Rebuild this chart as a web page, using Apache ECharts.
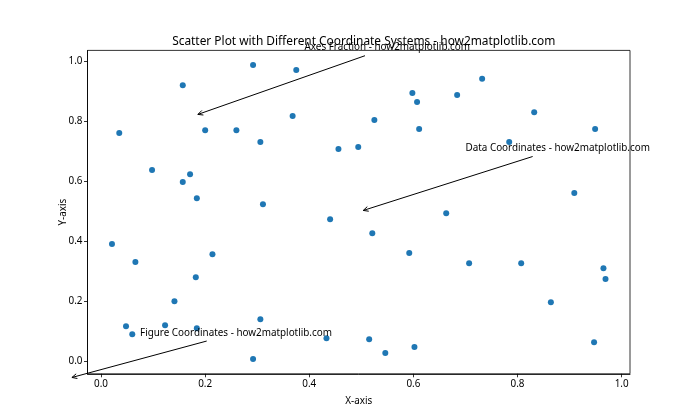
<!DOCTYPE html>
<html><head><meta charset="utf-8">
<script src="https://cdn.jsdelivr.net/npm/echarts@6/dist/echarts.min.js"></script>
<style>html,body{margin:0;padding:0;background:#fff}#c{width:700px;height:420px}</style>
</head><body><div id="c"></div>
<script>
const titleText = 'Scatter Plot with Different Coordinate Systems - how2matplotlib.com';
const xAxisName = 'X-axis';
const yAxisName = 'Y-axis';
const xValues = [0.035,0.098,0.157,0.157,0.171,0.184,0.200,0.260,0.292,0.306,
                 0.311,0.368,0.375,0.440,0.456,0.494,0.525,0.598,0.607,0.611,
                 0.684,0.732,0.784,0.832,0.949,0.909,0.663,0.021,0.066,0.214,
                 0.182,0.141,0.048,0.060,0.123,0.184,0.306,0.292,0.433,0.521,
                 0.592,0.707,0.807,0.965,0.969,0.864,0.515,0.546,0.602,0.947];
const yValues = [0.760,0.637,0.920,0.597,0.623,0.543,0.770,0.770,0.987,0.730,
                 0.523,0.817,0.971,0.473,0.707,0.714,0.804,0.894,0.864,0.774,
                 0.887,0.941,0.730,0.830,0.774,0.560,0.493,0.390,0.330,0.356,
                 0.279,0.199,0.116,0.089,0.119,0.109,0.139,0.006,0.076,0.426,
                 0.360,0.326,0.326,0.309,0.273,0.196,0.072,0.026,0.046,0.062];
const xTicks = [0.0,0.2,0.4,0.6,0.8,1.0];
const yTicks = [0.0,0.2,0.4,0.6,0.8,1.0];
const xRange = [-0.026, 1.016];
const yRange = [-0.043, 1.036];

// annotations: label, target point (xy), text anchor, arrow start
const annTexts = ['Axes Fraction - how2matplotlib.com','Data Coordinates - how2matplotlib.com','Figure Coordinates - how2matplotlib.com'];
const annCoords = ['axes','data','figure'];
const annTargets = [[0.2,0.8],[0.5,0.5],[0.1,0.1]];
const annTextPos = [[0.4,1.0],[0.7,0.7],[0.2,0.2]];
const annStarts = [[0.5115,0.9836],[0.829,0.682],[0.2953,0.188]];

const FONT = 'Noto Sans';
const W = 700, H = 420;
const chart = echarts.init(document.getElementById('c'), null, {renderer:'canvas'});
const txt = {fontFamily:FONT, fontSize:9.9, color:'#000'};
const axisCommon = {
  type:'value', nameLocation:'middle', nameMoveOverlap:false, nameTextStyle:Object.assign({}, txt),
  axisLine:{show:true, onZero:false, lineStyle:{color:'#000', width:0.8}},
  axisTick:{show:true, length:3.5, lineStyle:{color:'#000', width:0.8}},
  splitLine:{show:false}
};
chart.setOption({
  animation:false,
  backgroundColor:'#fff',
  title:{text:titleText, left:358.75, top:31, textAlign:'center',
         textStyle:{fontFamily:FONT, fontSize:11.9, fontWeight:'normal', color:'#000'}},
  grid:{left:87.5, right:70, top:50.4, bottom:46.2, show:true, borderColor:'#000', borderWidth:0.8},
  xAxis:Object.assign({}, axisCommon, {
    min:xRange[0], max:xRange[1], name:xAxisName, nameGap:22,
    axisTick:Object.assign({}, axisCommon.axisTick, {customValues:xTicks}),
    axisLabel:Object.assign({}, txt, {customValues:xTicks, margin:5, formatter:v=>v.toFixed(1)})
  }),
  yAxis:Object.assign({}, axisCommon, {
    min:yRange[0], max:yRange[1], name:yAxisName, nameGap:19,
    axisTick:Object.assign({}, axisCommon.axisTick, {customValues:yTicks}),
    axisLabel:Object.assign({}, txt, {customValues:yTicks, margin:5, formatter:v=>v.toFixed(1)})
  }),
  series:[{type:'scatter', data:xValues.map((x,i)=>[x,yValues[i]]), symbolSize:6,
           itemStyle:{color:'#1f77b4', opacity:1}}]
});

function toPx(p, sys){
  if (sys === 'data') return chart.convertToPixel({gridIndex:0}, p);
  if (sys === 'axes') {
    return chart.convertToPixel({gridIndex:0}, [xRange[0] + p[0]*(xRange[1]-xRange[0]),
                                               yRange[0] + p[1]*(yRange[1]-yRange[0])]);
  }
  return [p[0]*W, (1-p[1])*H];
}
const elems = [];
annTexts.forEach((t,i)=>{
  const sys = annCoords[i];
  const tp = toPx(annTextPos[i], sys);
  const sp = toPx(annStarts[i], sys);
  const tg = toPx(annTargets[i], sys);
  const dx = tg[0]-sp[0], dy = tg[1]-sp[1], L = Math.hypot(dx,dy);
  const ux = dx/L, uy = dy/L;
  const tip = [tg[0]-ux*2, tg[1]-uy*2];
  const hl = 5, hw = 2.4;
  const b = [tip[0]-ux*hl, tip[1]-uy*hl];
  elems.push({type:'line', z:10, shape:{x1:sp[0], y1:sp[1], x2:tip[0], y2:tip[1]},
              style:{stroke:'#000', lineWidth:1}});
  elems.push({type:'polyline', z:10, shape:{points:[[b[0]-uy*hw, b[1]+ux*hw], tip, [b[0]+uy*hw, b[1]-ux*hw]]},
              style:{stroke:'#000', lineWidth:1, fill:null}});
  elems.push({type:'text', z:11, x:tp[0], y:tp[1]+2.2,
              style:{text:t, fontFamily:FONT, fontSize:9.9, fill:'#000', align:'left', verticalAlign:'bottom'}});
});
chart.setOption({graphic:{elements:elems}});
</script></body></html>
